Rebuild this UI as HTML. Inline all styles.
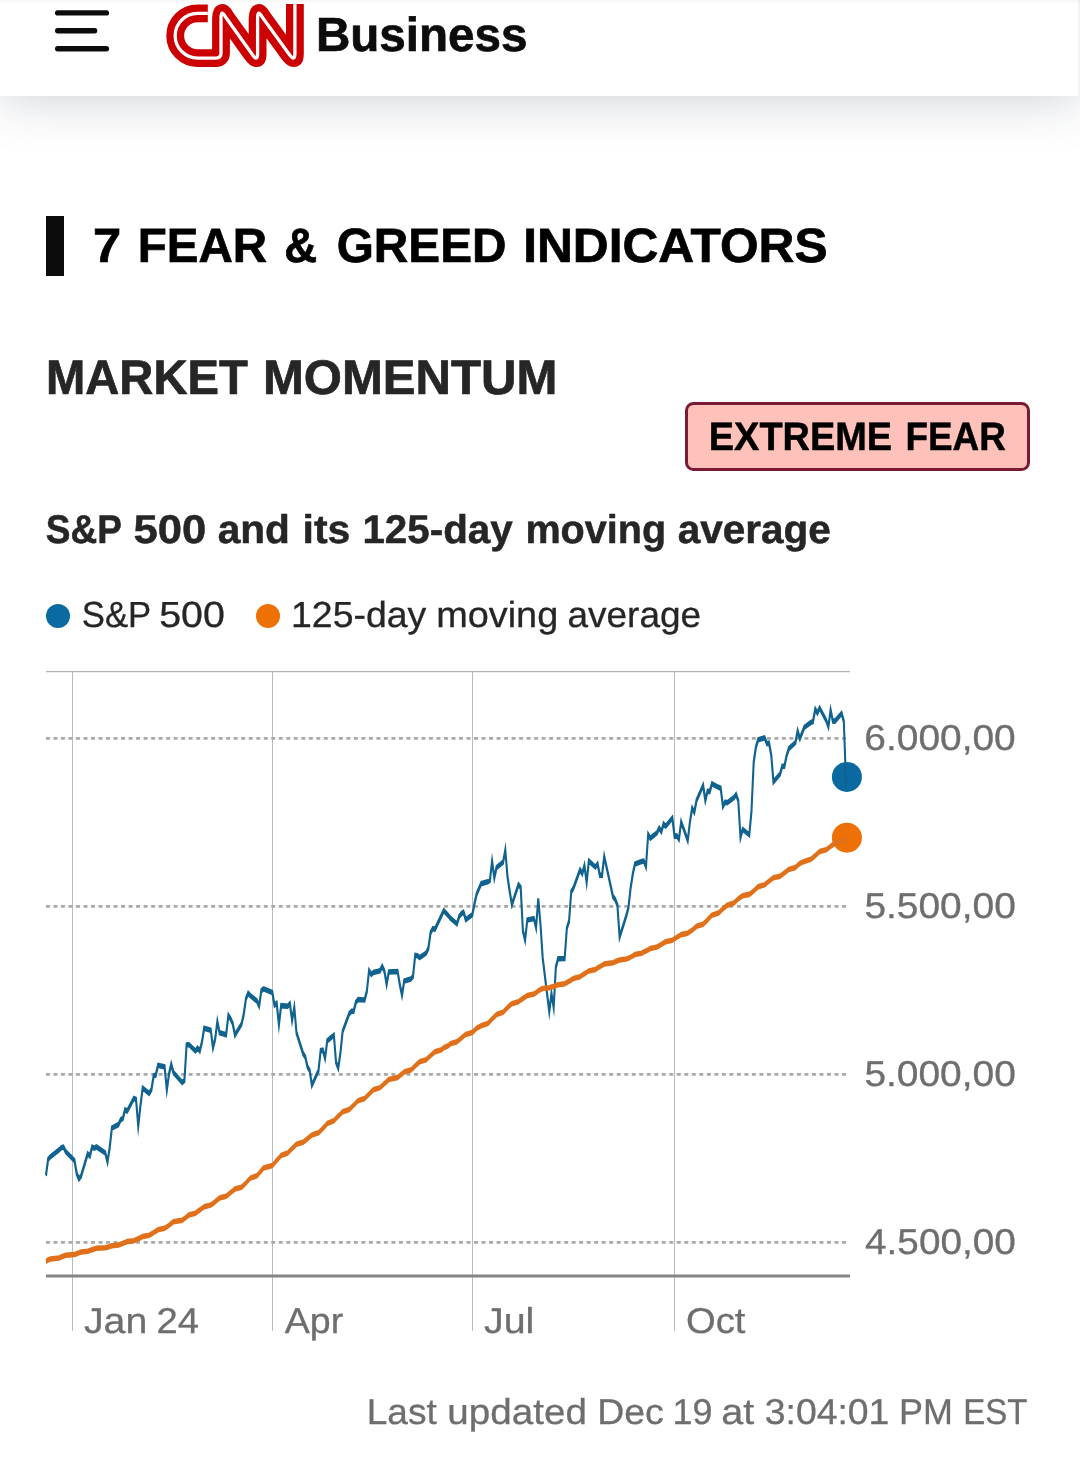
<!DOCTYPE html>
<html lang="en">
<head>
<meta charset="utf-8">
<meta name="viewport" content="width=1080">
<title>Fear &amp; Greed Index - CNN Business</title>
<style>
*{box-sizing:border-box;margin:0;padding:0}
html,body{width:1080px;height:1463px;overflow:hidden;background:#fff}
body{position:relative;text-rendering:geometricPrecision;font-family:"Liberation Sans",Arial,Helvetica,sans-serif;color:#262626;-webkit-font-smoothing:antialiased}
.abs{position:absolute;left:0;white-space:nowrap;line-height:1;font-weight:400}
.abs span{display:inline-block;transform-origin:0 0;white-space:nowrap}
#hdr{position:absolute;left:0;top:0;width:1080px;height:96px;background:linear-gradient(rgba(0,0,0,.03),rgba(0,0,0,0) 5px),linear-gradient(to right,#fff 1078px,#f3f3f5 1078px);box-shadow:0 0 54px rgba(31,47,79,.25)}
#menu{position:absolute;left:50px;top:0}
#logo{position:absolute;left:160px;top:0}
#biz{font-weight:700;color:#0c0c0c;-webkit-text-stroke:0.7px #0c0c0c}
#bar{position:absolute;left:46.2px;top:215.5px;width:17.6px;height:60px;background:#0c0c0c}
#h1{font-weight:700;color:#000;-webkit-text-stroke:0.7px #000}
#h2{font-weight:700;color:#262626;-webkit-text-stroke:0.7px #262626}
#badge{position:absolute;left:685px;top:402px;width:345px;height:69px;border:3px solid #7b1a34;border-radius:8.5px;background:#ffc2bb}
#badget{font-weight:700;color:#000;-webkit-text-stroke:0.5px #000}
#sub{font-weight:700;color:#262626;-webkit-text-stroke:0.5px #262626}
.leg{color:#262626;-webkit-text-stroke:0.3px #262626}
.dot{position:absolute;width:24.4px;height:24.4px;border-radius:50%}
#chart{position:absolute;left:0;top:0;width:1080px;height:1463px;overflow:visible}
#upd{color:#6e6e6e;-webkit-text-stroke:0.3px #6e6e6e}
.ax{color:#6e6e6e;-webkit-text-stroke:0.3px #6e6e6e}
</style>
</head>
<body>
<div id="hdr"></div>
<svg id="menu" width="70" height="70" viewBox="0 0 70 70" role="img" aria-label="Menu">
  <g stroke="#0c0c0c" stroke-width="5.4" stroke-linecap="round" fill="none">
    <line x1="7.7" y1="12.9" x2="56.4" y2="12.9"/>
    <line x1="7.7" y1="30.8" x2="44.6" y2="30.8"/>
    <line x1="7.7" y1="48.7" x2="56.4" y2="48.7"/>
  </g>
</svg>
<svg id="logo" width="150" height="75" viewBox="160 0 150 75" role="img" aria-label="CNN">
  <title>CNN</title>
  <path d="M207.8,13.3 H197.6 A22.4,22.4 0 0 0 197.6,58.1 H216 Q221,58.1 221,53 V18.5 Q221,8.5 225.4,16.8 L251.8,53.8 Q257.6,62.4 257.6,53.8 V18.5 Q257.6,8.5 262,16.8 L288.8,53.8 Q294.9,62.4 294.9,53.8 V4.1" fill="none" stroke="#cc0000" stroke-width="17.8" stroke-linejoin="round"/>
  <path d="M207.8,13.3 H197.6 A22.4,22.4 0 0 0 197.6,58.1 H216 Q221,58.1 221,53 V18.5 Q221,8.5 225.4,16.8 L251.8,53.8 Q257.6,62.4 257.6,53.8 V18.5 Q257.6,8.5 262,16.8 L288.8,53.8 Q294.9,62.4 294.9,53.8 V4.1" fill="none" stroke="#fff" stroke-width="3.3" stroke-linejoin="round"/>
</svg>
<div id="biz" class="abs" style="top:13px;font-size:47.82px"><span style="transform:translate(315.88px,-0.6px) scaleX(0.9951)">Business</span></div>

<div id="bar"></div>
<h1 id="h1" class="abs" style="top:222px;font-size:48.11px"><span style="transform:translateX(93.01px) scaleX(1.0533)">7</span> <span style="transform:translateX(97.74px) scaleX(0.988)">FEAR</span> <span style="transform:translateX(100.35px) scaleX(0.9478)">&amp;</span> <span style="transform:translateX(103.75px) scaleX(0.9919)">GREED</span> <span style="transform:translateX(106.16px) scaleX(1.0321)">INDICATORS</span></h1>
<h2 id="h2" class="abs" style="top:354px;font-size:48.4px"><span style="transform:translateX(46.01px) scaleX(0.9746)">MARKET</span> <span style="transform:translateX(42.9px) scaleX(1.0142)">MOMENTUM</span></h2>
<div id="badge"></div>
<div id="badget" class="abs" style="top:418px;font-size:39.68px"><span style="transform:translateX(708.81px) scaleX(0.9558)">EXTREME</span> <span style="transform:translateX(702.43px) scaleX(0.93)">FEAR</span></div>
<h3 id="sub" class="abs" style="top:510px;font-size:40.06px"><span style="transform:translateX(45.75px) scaleX(0.9249)">S&amp;P</span> <span style="transform:translateX(40.44px) scaleX(1.0887)">500</span> <span style="transform:translateX(46.63px) scaleX(1.0148)">and</span> <span style="transform:translateX(48.57px) scaleX(1.0238)">its</span> <span style="transform:translateX(50.39px) scaleX(1.0074)">125-day</span> <span style="transform:translateX(53.41px) scaleX(0.9878)">moving</span> <span style="transform:translateX(51.63px) scaleX(1.0122)">average</span></h3>

<div class="dot" style="left:45.9px;top:603.6px;background:#0a6aa1"></div>
<div class="abs leg" style="top:597px;font-size:36.19px"><span style="transform:translateX(81.72px) scaleX(0.9599)">S&amp;P</span> <span style="transform:translateX(77.23px) scaleX(1.0876)">500</span></div>
<div class="dot" style="left:255.7px;top:603.6px;background:#ee7108"></div>
<div class="abs leg" style="top:597px;font-size:36.19px"><span style="transform:translateX(291.04px) scaleX(1.0341)">125-day</span> <span style="transform:translateX(295.19px) scaleX(1.0466)">moving</span> <span style="transform:translateX(300.43px) scaleX(1.0227)">average</span></div>

<svg id="chart" viewBox="0 0 1080 1463" width="1080" height="1463" role="img" aria-label="S&amp;P 500 and its 125-day moving average chart">
  <g stroke="#bababa" stroke-width="1" fill="none">
    <line x1="72.5" y1="671.5" x2="72.5" y2="1330.8"/>
    <line x1="272.5" y1="671.5" x2="272.5" y2="1330.8"/>
    <line x1="472.5" y1="671.5" x2="472.5" y2="1330.8"/>
    <line x1="674.5" y1="671.5" x2="674.5" y2="1330.8"/>
  </g>
  <line x1="46" y1="671.6" x2="850" y2="671.6" stroke="#b2b2b2" stroke-width="1.4"/>
  <g stroke="#a9a9a9" stroke-width="2.8" stroke-dasharray="3.9 3.61" fill="none">
    <line x1="46" y1="738.3" x2="846.3" y2="738.3"/>
    <line x1="46" y1="906.3" x2="846.3" y2="906.3"/>
    <line x1="46" y1="1074.3" x2="846.3" y2="1074.3"/>
    <line x1="46" y1="1242.3" x2="846.3" y2="1242.3"/>
  </g>
  <line x1="46" y1="1276" x2="850" y2="1276" stroke="#858585" stroke-width="2.8"/>
  <circle cx="846.9" cy="776.9" r="15" fill="#0a69a0"/>
  <circle cx="846.9" cy="837.7" r="15" fill="#ee7108"/>
  <g transform="scale(1.03,2.78)" fill="none" stroke-width="2" stroke-linejoin="miter" stroke-miterlimit="4.2">
    <path d="M44.59,422.90 L46.72,417.05 L48.85,416.10 L57.39,413.66 L59.52,412.84 L61.66,412.62 L63.79,414.26 L72.33,417.52 L74.46,422.12 L76.60,424.07 L78.73,423.03 L85.13,415.02 L87.27,415.87 L89.40,412.61 L91.53,413.00 L93.67,412.57 L102.20,414.72 L104.34,417.96 L106.47,412.92 L108.61,405.80 L115.01,404.52 L117.14,402.80 L119.28,402.33 L121.41,399.23 L123.54,399.62 L129.95,395.15 L132.08,395.51 L134.21,405.09 L136.35,397.78 L138.48,391.44 L144.88,393.35 L147.02,391.97 L149.15,387.04 L151.29,386.69 L153.42,383.22 L159.82,383.80 L161.96,392.10 L164.09,386.36 L166.22,382.85 L168.36,385.77 L176.89,389.40 L179.03,388.64 L181.16,375.92 L183.30,375.71 L189.70,378.04 L191.83,376.99 L193.97,378.01 L196.10,374.80 L198.23,369.87 L204.63,370.61 L206.77,376.93 L208.90,373.78 L211.04,367.42 L213.17,371.49 L219.57,372.18 L221.71,365.26 L223.84,366.46 L225.97,368.25 L228.11,372.29 L234.51,368.38 L236.64,364.86 L238.78,359.29 L240.91,357.25 L243.05,358.14 L249.45,360.07 L251.58,361.83 L253.72,356.41 L255.85,355.70 L264.39,356.98 L266.52,361.56 L268.65,360.88 L270.79,368.65 L272.92,361.74 L279.32,361.98 L281.46,361.07 L283.59,367.02 L285.73,362.38 L287.86,371.52 L294.26,378.97 L296.40,380.23 L298.53,383.75 L300.66,385.09 L302.80,390.40 L309.20,385.16 L311.33,377.91 L313.47,377.78 L315.60,380.59 L317.74,374.36 L324.14,372.40 L326.27,382.13 L328.41,384.22 L330.54,378.68 L332.67,370.99 L339.08,364.59 L341.21,363.75 L343.34,363.76 L345.48,360.56 L347.61,359.53 L354.01,359.68 L356.15,356.62 L358.28,349.19 L360.42,350.53 L362.55,349.78 L368.95,349.20 L371.09,347.59 L373.22,349.33 L375.35,354.07 L377.49,349.61 L386.02,349.45 L388.16,354.17 L390.29,357.98 L392.43,352.90 L398.83,352.19 L400.96,351.23 L403.10,343.65 L405.23,343.78 L407.36,344.50 L413.77,342.83 L415.90,341.08 L418.03,335.55 L420.17,334.02 L422.30,334.27 L428.70,329.24 L430.84,327.57 L435.10,329.25 L437.24,330.28 L443.64,332.31 L445.77,329.72 L447.91,328.68 L450.04,328.08 L452.18,330.78 L458.58,329.02 L460.71,324.92 L462.85,321.53 L467.11,317.89 L473.52,317.20 L475.65,316.70 L477.78,309.82 L479.92,315.79 L482.05,312.07 L488.45,310.15 L490.59,305.80 L492.72,315.34 L494.86,320.62 L496.99,325.40 L503.39,318.22 L505.53,319.27 L507.66,334.81 L509.79,338.19 L511.93,330.95 L518.33,330.41 L520.46,333.69 L522.60,323.31 L524.73,332.45 L526.87,344.55 L533.27,363.92 L535.40,357.43 L537.54,362.33 L539.67,347.85 L541.80,344.84 L548.21,344.81 L550.34,333.93 L552.47,331.42 L554.61,320.78 L556.74,319.45 L563.14,312.92 L565.28,314.27 L567.41,311.40 L569.55,317.47 L571.68,309.74 L578.08,311.89 L580.22,310.80 L582.35,314.87 L584.48,314.89 L586.62,308.07 L595.15,322.51 L597.29,323.58 L599.42,325.60 L601.56,337.08 L607.96,329.51 L610.09,326.55 L612.23,319.46 L614.36,314.43 L616.49,310.78 L622.90,309.92 L625.03,309.74 L627.16,311.71 L629.30,300.19 L631.43,301.53 L637.83,299.59 L639.97,297.85 L642.10,299.14 L644.23,296.35 L646.37,297.22 L652.77,294.28 L654.90,300.78 L657.04,300.68 L659.17,301.84 L661.31,295.66 L667.71,302.33 L669.84,295.65 L671.98,290.71 L674.11,292.16 L676.24,287.93 L682.65,282.51 L684.78,287.90 L686.91,284.62 L689.05,284.74 L691.18,281.93 L697.58,283.22 L699.72,283.56 L701.85,290.06 L703.99,288.56 L706.12,288.77 L712.52,286.91 L714.66,285.77 L716.79,288.10 L718.92,301.18 L721.06,298.35 L727.46,300.30 L729.59,291.83 L731.73,274.15 L733.86,268.83 L736.00,266.11 L742.40,265.41 L744.53,267.51 L746.67,267.34 L748.80,271.72 L750.93,281.21 L757.34,278.43 L759.47,275.61 L761.60,275.59 L763.74,271.77 L765.87,269.28 L772.27,267.10 L774.41,262.96 L776.54,265.73 L780.81,261.66 L787.21,259.88 L789.35,259.55 L791.48,255.12 L793.61,256.50 L795.75,254.67 L802.15,259.19 L804.28,261.36 L806.42,255.40 L808.55,259.38 L810.69,259.40 L817.09,256.62 L819.22,259.46 L821.36,281.03 L822.23,279.46" stroke="#10628f"/>
    <path d="M44.59,453.67 L46.72,453.26 L48.85,452.90 L57.39,452.51 L59.52,452.14 L61.66,451.82 L63.79,451.52 L72.33,451.23 L74.46,450.95 L76.60,450.67 L78.73,450.39 L85.13,450.07 L87.27,449.80 L89.40,449.53 L91.53,449.27 L93.67,449.02 L102.20,448.81 L104.34,448.64 L106.47,448.41 L108.61,448.11 L115.01,447.83 L117.14,447.54 L119.28,447.25 L121.41,446.90 L123.54,446.60 L129.95,446.28 L132.08,445.94 L134.21,445.62 L136.35,445.23 L138.48,444.76 L144.88,444.35 L147.02,443.91 L149.15,443.40 L151.29,442.89 L153.42,442.35 L159.82,441.83 L161.96,441.33 L164.09,440.76 L166.22,440.12 L168.36,439.51 L176.89,438.95 L179.03,438.37 L181.16,437.75 L183.30,437.06 L189.70,436.41 L191.83,435.79 L193.97,435.24 L196.10,434.68 L198.23,434.07 L204.63,433.47 L206.77,432.91 L208.90,432.29 L211.04,431.61 L213.17,430.96 L219.57,430.35 L221.71,429.67 L223.84,428.99 L225.97,428.37 L228.11,427.72 L234.51,427.05 L236.64,426.34 L238.78,425.54 L240.91,424.66 L243.05,423.78 L249.45,422.93 L251.58,422.03 L253.72,421.09 L255.85,420.16 L264.39,419.24 L266.52,418.35 L268.65,417.40 L270.79,416.55 L272.92,415.63 L279.32,414.77 L281.46,413.92 L283.59,413.15 L285.73,412.35 L287.86,411.60 L294.26,410.89 L296.40,410.24 L298.53,409.61 L300.66,408.94 L302.80,408.27 L309.20,407.51 L311.33,406.69 L313.47,405.89 L315.60,405.06 L317.74,404.13 L324.14,403.16 L326.27,402.32 L328.41,401.52 L330.54,400.72 L332.67,399.94 L339.08,399.14 L341.21,398.35 L343.34,397.57 L345.48,396.76 L347.61,395.92 L354.01,395.14 L356.15,394.33 L358.28,393.54 L360.42,392.78 L362.55,392.01 L368.95,391.24 L371.09,390.49 L373.22,389.75 L375.35,389.06 L377.49,388.34 L386.02,387.61 L388.16,386.92 L390.29,386.26 L392.43,385.57 L398.83,384.91 L400.96,384.21 L403.10,383.45 L405.23,382.67 L407.36,381.93 L413.77,381.20 L415.90,380.48 L418.03,379.72 L420.17,379.02 L422.30,378.33 L428.70,377.60 L430.84,376.88 L435.10,376.20 L437.24,375.46 L443.64,374.78 L445.77,374.09 L447.91,373.41 L450.04,372.73 L452.18,372.08 L458.58,371.40 L460.71,370.66 L462.85,369.85 L467.11,369.00 L473.52,368.15 L475.65,367.37 L477.78,366.52 L479.92,365.75 L482.05,364.94 L488.45,364.12 L490.59,363.25 L492.72,362.43 L494.86,361.69 L496.99,361.04 L503.39,360.35 L505.53,359.69 L507.66,359.15 L509.79,358.66 L511.93,358.11 L518.33,357.59 L520.46,357.10 L522.60,356.44 L524.73,355.92 L526.87,355.54 L533.27,355.31 L535.40,355.03 L537.54,354.83 L539.67,354.52 L541.80,354.22 L548.21,353.90 L550.34,353.44 L552.47,353.00 L554.61,352.50 L556.74,351.97 L563.14,351.36 L565.28,350.77 L567.41,350.25 L569.55,349.78 L571.68,349.24 L578.08,348.72 L580.22,348.18 L582.35,347.70 L584.48,347.26 L586.62,346.76 L595.15,346.32 L597.29,345.92 L599.42,345.59 L601.56,345.31 L607.96,344.97 L610.09,344.66 L612.23,344.29 L614.36,343.85 L616.49,343.36 L622.90,342.90 L625.03,342.45 L627.16,342.07 L629.30,341.62 L631.43,341.16 L637.83,340.68 L639.97,340.17 L642.10,339.71 L644.23,339.24 L646.37,338.76 L652.77,338.22 L654.90,337.74 L657.04,337.19 L659.17,336.72 L661.31,336.19 L667.71,335.72 L669.84,335.14 L671.98,334.57 L674.11,333.94 L676.24,333.21 L682.65,332.43 L684.78,331.66 L686.91,330.86 L689.05,330.01 L691.18,329.18 L697.58,328.43 L699.72,327.67 L701.85,326.95 L703.99,326.26 L706.12,325.59 L712.52,324.83 L714.66,324.04 L716.79,323.32 L718.92,322.76 L721.06,322.23 L727.46,321.72 L729.59,321.15 L731.73,320.46 L733.86,319.73 L736.00,318.98 L742.40,318.25 L744.53,317.60 L746.67,316.93 L748.80,316.31 L750.93,315.77 L757.34,315.21 L759.47,314.62 L761.60,313.99 L763.74,313.37 L765.87,312.73 L772.27,312.03 L774.41,311.27 L776.54,310.58 L780.81,309.85 L787.21,309.12 L789.35,308.45 L791.48,307.74 L793.61,307.04 L795.75,306.33 L802.15,305.67 L804.28,305.08 L806.42,304.45 L808.55,303.85 L810.69,303.29 L817.09,302.73 L819.22,302.17 L821.36,301.77 L822.23,301.33" stroke="#e0701a"/>
  </g>
</svg>
<div class="abs ax" style="top:721px;font-size:35.9px"><span style="transform:translateX(864.36px) scaleX(1.0831)">6.000,00</span></div>
<div class="abs ax" style="top:889px;font-size:35.9px"><span style="transform:translateX(864.39px) scaleX(1.0836)">5.500,00</span></div>
<div class="abs ax" style="top:1057px;font-size:35.9px"><span style="transform:translateX(864.39px) scaleX(1.0836)">5.000,00</span></div>
<div class="abs ax" style="top:1225px;font-size:35.9px"><span style="transform:translateX(865.05px) scaleX(1.0793)">4.500,00</span></div>
<div class="abs ax" style="top:1304px;font-size:35.9px"><span style="transform:translateX(83.92px) scaleX(1.0946)">Jan</span> <span style="transform:translateX(88.57px) scaleX(1.0655)">24</span></div>
<div class="abs ax" style="top:1304px;font-size:35.9px"><span style="transform:translateX(284.72px) scaleX(1.0468)">Apr</span></div>
<div class="abs ax" style="top:1304px;font-size:35.9px"><span style="transform:translateX(484.02px) scaleX(1.0975)">Jul</span></div>
<div class="abs ax" style="top:1304px;font-size:35.9px"><span style="transform:translateX(685.97px) scaleX(1.0649)">Oct</span></div>
<div id="upd" class="abs" style="top:1395px;font-size:35.9px"><span style="transform:translateX(366.72px) scaleX(1.0334)">Last</span> <span style="transform:translateX(369.36px) scaleX(1.0752)">updated</span> <span style="transform:translateX(379.14px) scaleX(1.0431)">Dec</span> <span style="transform:translateX(381.5px) scaleX(1.0001)">19</span> <span style="transform:translateX(380.23px) scaleX(1.1026)">at</span> <span style="transform:translateX(383.74px) scaleX(1.0409)">3:04:01</span> <span style="transform:translateX(388.12px) scaleX(1.0009)">PM</span> <span style="transform:translateX(388.32px) scaleX(0.9189)">EST</span></div>
</body>
</html>
